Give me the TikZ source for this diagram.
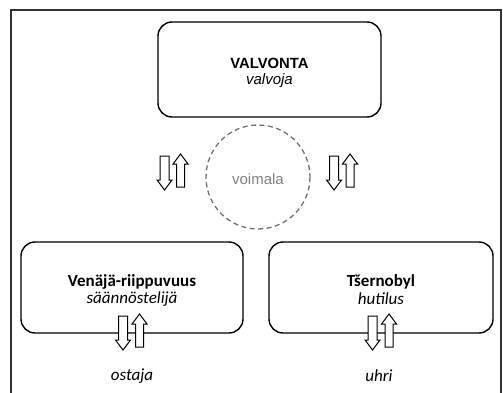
\documentclass[tikz,border=0pt]{standalone}
\usepackage{fontspec}
\newfontfamily\arialf{Liberation Sans}
\newfontfamily\calibf{Carlito}
\definecolor{framegrey}{HTML}{333333}
\definecolor{circgrey}{HTML}{707070}
\definecolor{textgrey}{HTML}{808080}
\tikzset{
  rbox/.style={draw=black, line width=1.4pt, rounded corners=14pt, fill=white},
  arrowstyle/.style={draw=black, line width=1pt, fill=white, line join=miter},
  dnarr/.pic={\filldraw[arrowstyle] (-4.5,0) -- (4.5,0) -- (4.5,24) -- (7.5,24) -- (0,34) -- (-7.5,24) -- (-4.5,24) -- cycle;},
  uparr/.pic={\filldraw[arrowstyle] (-4,0) -- (4,0) -- (4,-23) -- (7.5,-23) -- (0,-33) -- (-7.5,-23) -- (-4,-23) -- cycle;},
  toptxt/.style={font=\arialf\fontsize{14.8}{17}\selectfont\bfseries},
  topsub/.style={font=\arialf\fontsize{15}{17}\selectfont\itshape},
  cbold/.style={font=\calibf\fontsize{17}{19}\selectfont\bfseries},
  cital/.style={font=\calibf\fontsize{17}{19}\selectfont\itshape},
}
\begin{document}
\begin{tikzpicture}[x=1pt,y=-1pt]
\useasboundingbox (0,0) rectangle (503,393);
% frame
\draw[framegrey, line width=1.2pt] (11,393) -- (11,10) -- (501,10) -- (501,393);
% top box
\draw[rbox] (158,22) rectangle (381,117);
\node[toptxt] (valvonta) at (269.5,63) {VALVONTA};
\node[topsub] (valvoja) at (269.5,81) {valvoja};
% circle
\draw[circgrey, line width=1.3pt, dash pattern=on 5pt off 3.5pt] (258,177) circle (52);
\node[font=\arialf\fontsize{15}{17}\selectfont, text=textgrey] (voimala) at (258,179) {voimala};
% middle arrows
\pic at (164.5,156) {dnarr};
\pic at (180.5,187) {uparr};
\pic at (334,156) {dnarr};
\pic at (350,187) {uparr};
% bottom boxes
\draw[rbox] (21,242) rectangle (243,333);
\draw[rbox] (269,242) rectangle (493,333);
\node[cbold] (venaja) at (132,282) {Venäjä-riippuvuus};
\node[cital] (saann) at (132,299) {säännöstelijä};
\node[cbold] (tsern) at (381,282) {Tšernobyl};
\node[cital] (hutilus) at (381,299) {hutilus};
% bottom arrows
\pic at (123,316) {dnarr};
\pic at (139.5,347) {uparr};
\pic at (372.5,316) {dnarr};
\pic at (389,347) {uparr};
% bottom labels
\node[cital] (ostaja) at (132,376) {ostaja};
\node[cital] (uhri) at (379,376) {uhri};
\end{tikzpicture}
\end{document}
